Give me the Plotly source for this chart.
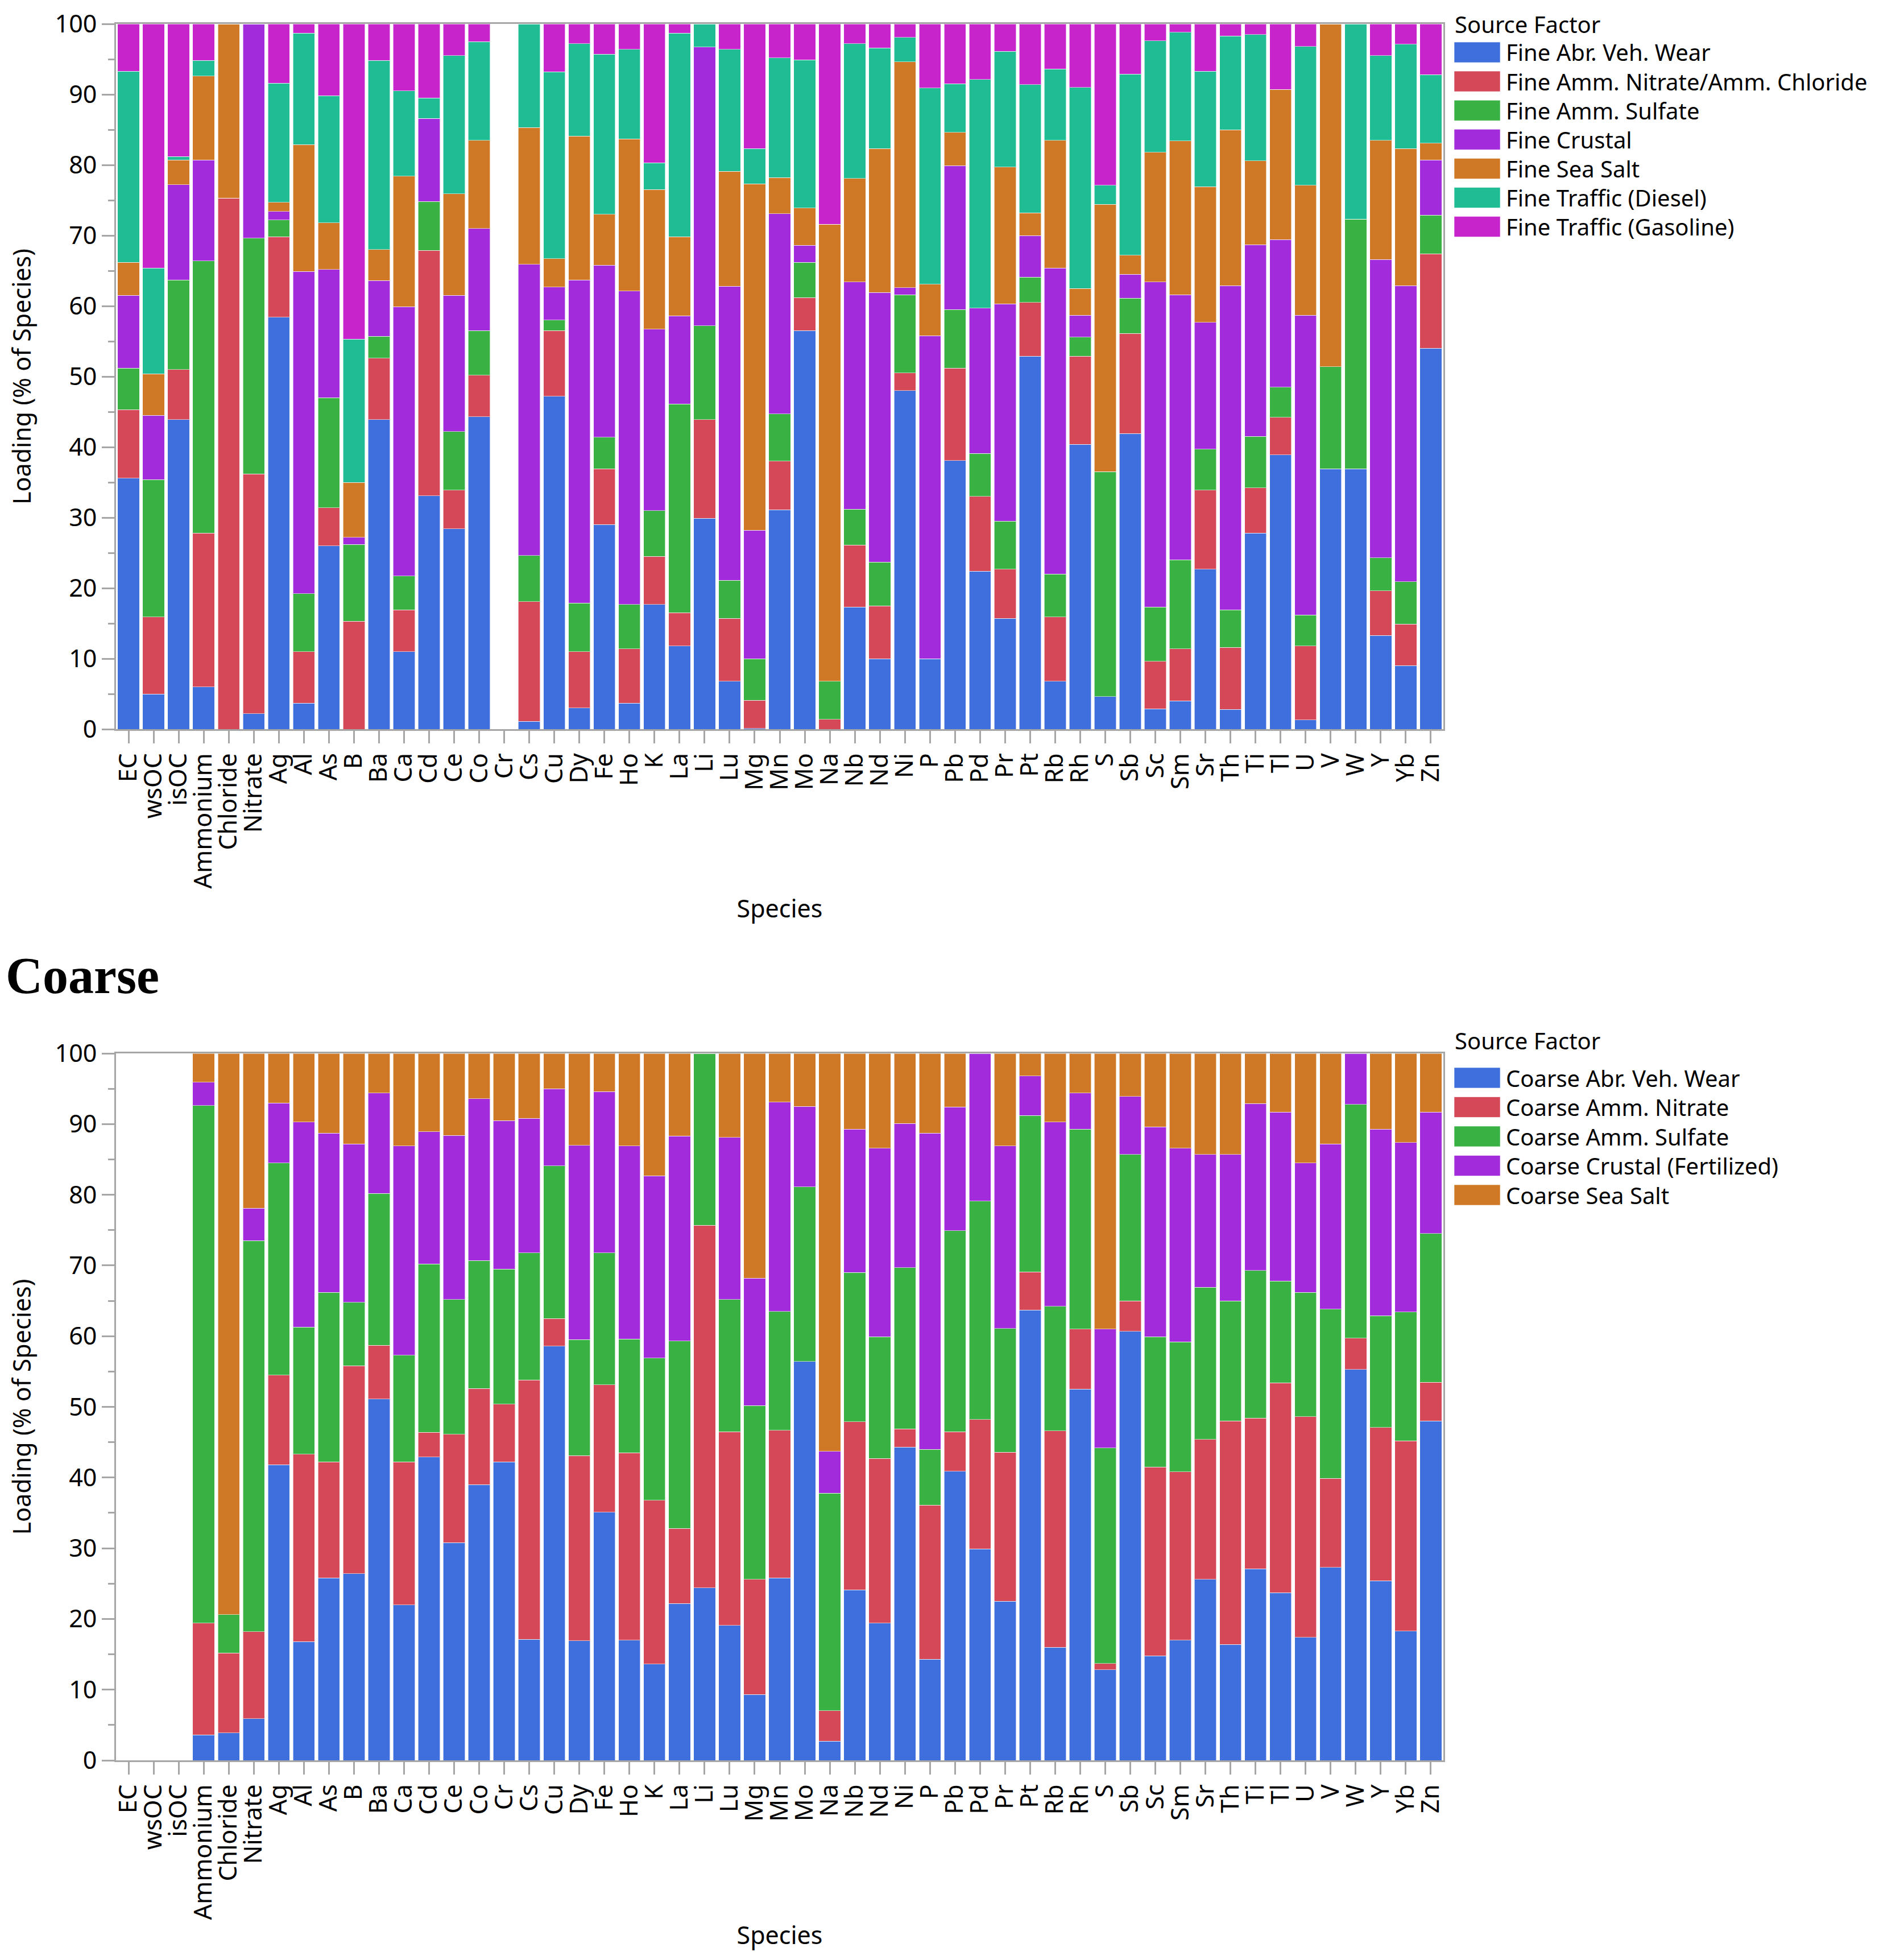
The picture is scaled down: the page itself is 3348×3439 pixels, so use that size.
import plotly.graph_objects as go

species = ["EC", "wsOC", "isOC", "Ammonium", "Chloride", "Nitrate", "Ag", "Al", "As", "B",
           "Ba", "Ca", "Cd", "Ce", "Co", "Cr", "Cs", "Cu", "Dy", "Fe", "Ho", "K", "La", "Li",
           "Lu", "Mg", "Mn", "Mo", "Na", "Nb", "Nd", "Ni", "P", "Pb", "Pd", "Pr", "Pt", "Rb",
           "Rh", "S", "Sb", "Sc", "Sm", "Sr", "Th", "Ti", "Tl", "U", "V", "W", "Y", "Yb", "Zn"]

# fine PM source factors (% of species)
fine_names = ["Fine Abr. Veh. Wear", "Fine Amm. Nitrate/Amm. Chloride", "Fine Amm. Sulfate",
              "Fine Crustal", "Fine Sea Salt", "Fine Traffic (Diesel)", "Fine Traffic (Gasoline)"]
fine_abr = [35.6, 5.0, 43.9, 6.0, 0, 2.2, 58.4, 3.7, 26.0, 0, 43.9, 11.0, 33.1, 28.4, 44.3, 0,
            1.1, 47.2, 3.0, 29.0, 3.7, 17.7, 11.8, 29.9, 6.8, 0.1, 31.1, 56.5, 0, 17.3, 10.0,
            48.0, 10.0, 38.1, 22.4, 15.7, 52.9, 6.8, 40.4, 4.6, 41.9, 2.9, 4.0, 22.7, 2.8, 27.8,
            38.9, 1.3, 36.9, 36.9, 13.3, 9.0, 54.0]
fine_nitrate = [9.7, 10.9, 7.1, 21.8, 75.3, 34.0, 11.4, 7.3, 5.4, 15.3, 8.7, 5.9, 34.8, 5.5, 5.9,
                0, 17.0, 9.3, 8.0, 7.9, 7.7, 6.8, 4.7, 14.0, 8.9, 4.0, 6.9, 4.7, 1.4, 8.8, 7.5,
                2.5, 0, 13.1, 10.6, 7.0, 7.6, 9.1, 12.5, 0, 14.2, 6.7, 7.4, 11.2, 8.8, 6.4, 5.3,
                10.5, 0, 0, 6.3, 5.9, 13.4]
fine_sulfate = [5.9, 19.5, 12.7, 38.6, 0, 33.4, 2.4, 8.2, 15.6, 10.9, 3.1, 4.8, 6.9, 8.3, 6.3, 0,
                6.5, 1.5, 6.9, 4.5, 6.3, 6.5, 29.6, 13.3, 5.4, 5.9, 6.7, 5.0, 5.4, 5.1, 6.2, 11.1,
                0, 8.3, 6.1, 6.8, 3.6, 6.1, 2.7, 31.9, 5.0, 7.7, 12.6, 5.8, 5.3, 7.3, 4.3, 4.4,
                14.5, 35.4, 4.7, 6.0, 5.5]
fine_crustal = [10.3, 9.1, 13.5, 14.3, 0, 30.4, 1.2, 45.7, 18.2, 1.0, 7.9, 38.2, 11.8, 19.3, 14.5,
                0, 41.3, 4.7, 45.8, 24.4, 44.4, 25.7, 12.5, 39.5, 41.7, 18.2, 28.4, 2.4, 0, 32.2,
                38.2, 1.0, 45.8, 20.4, 20.6, 30.8, 5.9, 43.4, 3.1, 0, 3.4, 46.1, 37.6, 18.0, 46.0,
                27.2, 20.9, 42.5, 0, 0, 42.3, 42.0, 7.8]
fine_seasalt = [4.7, 5.9, 3.5, 11.9, 24.7, 0, 1.3, 18.0, 6.6, 7.8, 4.4, 18.5, 0, 14.4, 12.5, 0,
                19.4, 4.0, 20.4, 7.2, 21.6, 19.8, 11.2, 0, 16.3, 49.1, 5.1, 5.3, 64.8, 14.7, 20.4,
                32.0, 7.3, 4.7, 0, 19.4, 3.2, 18.1, 3.8, 37.9, 2.7, 18.4, 21.8, 19.2, 22.1, 11.9,
                21.3, 18.4, 48.6, 0, 16.9, 19.4, 2.4]
fine_diesel = [27.1, 15.0, 0.5, 2.2, 0, 0, 16.9, 15.8, 18.0, 20.3, 26.8, 12.1, 2.9, 19.6, 14.0, 0,
               14.7, 26.5, 13.1, 22.7, 12.7, 3.8, 28.9, 3.3, 17.3, 5.0, 17.0, 21.0, 0, 19.1, 14.3,
               3.5, 27.8, 6.9, 32.4, 16.4, 18.2, 10.1, 28.5, 2.7, 25.7, 15.8, 15.4, 16.4, 13.3,
               17.9, 0, 19.7, 0, 27.7, 12.0, 14.8, 9.7]
fine_gasoline = [6.7, 34.6, 18.8, 5.2, 0, 0, 8.4, 1.3, 10.2, 44.7, 5.2, 9.5, 10.5, 4.5, 2.5, 0, 0,
                 6.8, 2.8, 4.3, 3.6, 19.7, 1.3, 0, 3.6, 17.7, 4.8, 5.1, 28.4, 2.8, 3.4, 1.9, 9.1,
                 8.5, 7.9, 3.9, 8.6, 6.4, 9.0, 22.9, 7.1, 2.4, 1.2, 6.7, 1.7, 1.5, 9.3, 3.2, 0, 0,
                 4.5, 2.9, 7.2]

# coarse PM source factors (% of species)
coarse_names = ["Coarse Abr. Veh. Wear", "Coarse Amm. Nitrate", "Coarse Amm. Sulfate",
                "Coarse Crustal (Fertilized)", "Coarse Sea Salt"]
coarse_abr = [0, 0, 0, 3.6, 3.9, 5.9, 41.8, 16.8, 25.8, 26.4, 51.1, 22.0, 42.9, 30.8, 39.0, 42.2,
              17.1, 58.6, 16.9, 35.1, 17.0, 13.6, 22.2, 24.4, 19.1, 9.3, 25.8, 56.4, 2.7, 24.1,
              19.4, 44.3, 14.3, 40.9, 29.9, 22.5, 63.7, 16.0, 52.5, 12.8, 60.7, 14.8, 17.0, 25.6,
              16.4, 27.1, 23.7, 17.4, 27.3, 55.3, 25.4, 18.3, 48.0]
coarse_nitrate = [0, 0, 0, 15.8, 11.3, 12.3, 12.7, 26.5, 16.4, 29.4, 7.6, 20.2, 3.5, 15.3, 13.6,
                  8.2, 36.7, 3.9, 26.2, 18.0, 26.5, 23.2, 10.6, 51.3, 27.4, 16.3, 20.9, 0, 4.3,
                  23.8, 23.3, 2.6, 21.8, 5.6, 18.3, 21.1, 5.4, 30.6, 8.5, 0.9, 4.3, 26.7, 23.8,
                  19.8, 31.6, 21.3, 29.7, 31.2, 12.6, 4.4, 21.7, 26.9, 5.5]
coarse_sulfate = [0, 0, 0, 73.2, 5.4, 55.3, 30.0, 18.0, 24.0, 9.0, 21.5, 15.1, 23.8, 19.1, 18.1,
                  19.1, 18.0, 21.6, 16.4, 18.7, 16.1, 20.1, 26.5, 24.3, 18.7, 24.6, 16.8, 24.7,
                  30.8, 21.1, 17.2, 22.8, 7.9, 28.4, 30.9, 17.5, 22.1, 17.6, 28.3, 30.5, 20.7,
                  18.4, 18.4, 21.5, 17.0, 20.9, 14.4, 17.6, 23.9, 33.1, 15.8, 18.2, 21.0]
coarse_crustal = [0, 0, 0, 3.3, 0, 4.6, 8.5, 29.0, 22.5, 22.4, 14.2, 29.6, 18.7, 23.2, 22.9, 21.0,
                  19.0, 10.9, 27.5, 22.8, 27.3, 25.8, 29.0, 0, 22.9, 18.0, 29.6, 11.4, 5.9, 20.3,
                  26.7, 20.4, 44.7, 17.5, 20.9, 25.8, 5.6, 26.1, 5.1, 16.8, 8.2, 29.7, 27.4, 18.8,
                  20.7, 23.6, 23.9, 18.3, 23.4, 7.2, 26.4, 24.0, 17.2]
coarse_seasalt = [0, 0, 0, 4.1, 79.4, 21.9, 7.0, 9.7, 11.3, 12.8, 5.6, 13.1, 11.1, 11.6, 6.4, 9.5,
                  9.2, 5.0, 13.0, 5.4, 13.1, 17.3, 11.7, 0, 11.9, 31.8, 6.9, 7.5, 56.3, 10.7, 13.4,
                  9.9, 11.3, 7.6, 0, 13.1, 3.2, 9.7, 5.6, 39.0, 6.1, 10.4, 13.4, 14.3, 14.3, 7.1,
                  8.3, 15.5, 12.8, 0, 10.7, 12.6, 8.3]

fine_colors = ["#3F6FDD", "#D44857", "#39B143", "#A22BDB", "#CF7825", "#20BD94", "#C824CB"]
coarse_colors = fine_colors[:5]

W, H = 3348, 3439
PAD = 8          # page body margin of the html
FW, FH = W - 2 * PAD, H - 2 * PAD
FONT = "Noto Sans"
AX = "#a6a6a6"


def px_x(x):
    return (x - PAD) / FW


def px_y(y):
    return 1 - (y - PAD) / FH


fig = go.Figure()

fine_series = [fine_abr, fine_nitrate, fine_sulfate, fine_crustal, fine_seasalt, fine_diesel, fine_gasoline]
for name, col, vals in zip(fine_names, fine_colors, fine_series):
    fig.add_trace(go.Bar(x=species, y=vals, name=name, marker_color=col,
                         marker_line=dict(width=1, color="rgba(255,255,255,0.6)"),
                         xaxis="x", yaxis="y", showlegend=False))

coarse_series = [coarse_abr, coarse_nitrate, coarse_sulfate, coarse_crustal, coarse_seasalt]
for name, col, vals in zip(coarse_names, coarse_colors, coarse_series):
    fig.add_trace(go.Bar(x=species, y=vals, name=name, marker_color=col,
                         marker_line=dict(width=1, color="rgba(255,255,255,0.6)"),
                         xaxis="x2", yaxis="y2", showlegend=False))

xdom = [px_x(204), px_x(2538)]
xax = dict(type="category", categoryorder="array", categoryarray=species, range=[-0.5, 52.5],
           domain=xdom, tickangle=-90, tickmode="linear", tick0=0, dtick=1,
           ticks="outside", ticklen=22, tickwidth=3, tickcolor=AX,
           showline=True, linecolor=AX, linewidth=3, mirror=True, showgrid=False,
           tickfont=dict(family=FONT, size=43, color="black"), automargin=False,
           title=dict(text="Species", font=dict(family=FONT, size=43, color="black"), standoff=22))
yax = dict(range=[0, 100], dtick=10, ticks="outside", ticklen=22, tickwidth=3, tickcolor=AX,
           minor=dict(dtick=5, ticks="outside", ticklen=11, tickwidth=3, tickcolor=AX),
           showline=True, linecolor=AX, linewidth=3, mirror=True, showgrid=False, zeroline=False,
           tickfont=dict(family=FONT, size=43, color="black"), automargin=False,
           title=dict(text="Loading (% of Species)", font=dict(family=FONT, size=43, color="black"),
                      standoff=40))

fig.update_layout(
    width=FW, height=FH, margin=dict(l=0, r=0, t=0, b=0),
    paper_bgcolor="white", plot_bgcolor="white",
    barmode="stack", bargap=0.13,
    xaxis=dict(xax, anchor="y"),
    yaxis=dict(yax, anchor="x", domain=[px_y(1282), px_y(42)]),
    xaxis2=dict(xax, anchor="y2"),
    yaxis2=dict(yax, anchor="x2", domain=[px_y(3095), px_y(1852)]),
    showlegend=False,
)

# panel heading for the coarse chart
fig.add_annotation(text="<b>Coarse</b>", x=0, y=px_y(1715), xref="paper", yref="paper",
                   xanchor="left", yanchor="middle", showarrow=False,
                   font=dict(family="Liberation Serif", size=90, color="black"))

LEG_FONT = dict(family=FONT, size=40, color="black")


# legends drawn as swatches + labels (wide JMP-style swatches)
def add_legend(names, colors, title_y, first_y, step):
    fig.add_annotation(text="Source Factor", x=px_x(2557), y=px_y(title_y), xref="paper", yref="paper",
                       xanchor="left", yanchor="middle", showarrow=False, borderpad=0,
                       font=LEG_FONT)
    for i, (name, col) in enumerate(zip(names, colors)):
        yc = first_y + i * step
        fig.add_shape(type="rect", xref="paper", yref="paper",
                      x0=px_x(2557), x1=px_x(2638), y0=px_y(yc + 18), y1=px_y(yc - 18),
                      fillcolor=col, line=dict(width=1, color="rgba(255,255,255,0.6)"))
        fig.add_annotation(text=name, x=px_x(2647), y=px_y(yc), xref="paper", yref="paper",
                           xanchor="left", yanchor="middle", showarrow=False, borderpad=0,
                           font=LEG_FONT)


add_legend(fine_names, fine_colors, 42, 92, 51.1)
add_legend(coarse_names, coarse_colors, 1829, 1895, 51.5)

fig.write_html("out.html")
